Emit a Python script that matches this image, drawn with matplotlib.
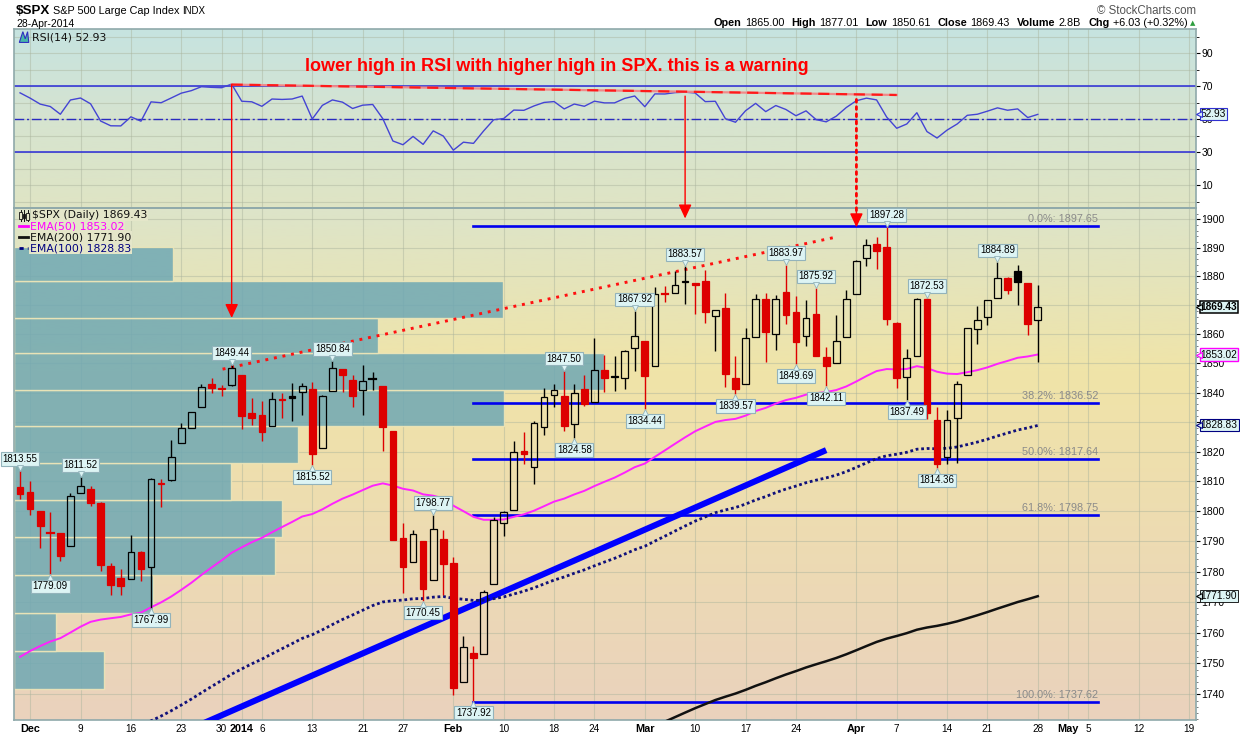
import numpy as np
import pandas as pd
import matplotlib.pyplot as plt
import matplotlib.transforms as mtransforms
from matplotlib.patches import Rectangle, ConnectionPatch, Polygon
from matplotlib.colors import LinearSegmentedColormap
from matplotlib.ticker import FixedLocator, NullFormatter

plt.rcParams['font.family'] = ['DejaVu Sans']
SANS = ['Liberation Sans', 'DejaVu Sans']

# ---------------- data ----------------
holidays = ['2013-12-25', '2014-01-01', '2014-01-20', '2014-02-17', '2014-04-18', '2014-05-26']
days = pd.bdate_range('2013-11-29', '2014-05-20')
days = days[~days.isin(pd.to_datetime(holidays))]

opens = [1808.10, 1806.55, 1800.10, 1793.15, 1792.82, 1788.36,
         1806.21, 1807.60, 1802.76, 1781.71, 1777.98,
         1777.48, 1786.47, 1781.46, 1809.00, 1810.39,
         1822.92, 1828.02, 1834.96, 1842.97,
         1841.47, 1842.61,
         1845.86, 1833.21,
         1832.31, 1828.71, 1837.90, 1839.00, 1840.06,
         1841.26, 1821.36, 1840.52, 1847.99, 1844.23,
         1841.05, 1844.71, 1842.29, 1826.96,
         1791.03, 1783.00, 1790.15, 1777.17, 1790.88,
         1782.68, 1743.82, 1753.38, 1752.99, 1776.01,
         1796.20, 1800.45, 1820.12, 1814.82, 1828.46,
         1839.03, 1838.90, 1829.24, 1841.07,
         1836.78, 1847.66, 1845.79, 1844.90, 1855.12,
         1857.68, 1849.23, 1874.05, 1874.18, 1878.52,
         1877.86, 1878.26, 1866.15, 1869.06, 1845.07,
         1842.81, 1858.92, 1872.25, 1860.09, 1874.53,
         1867.67, 1859.48, 1867.09, 1852.11, 1850.07,
         1859.16,
         1873.96, 1886.61, 1891.43, 1890.25,
         1863.92, 1845.48, 1852.64, 1872.28, 1830.65,
         1818.18, 1831.45, 1846.01, 1861.73,
         1865.79, 1872.57, 1879.32, 1881.97, 1877.72,
         1865.00]
highs = [1813.55, 1810.02, 1800.10, 1799.80, 1792.82, 1806.04,
         1811.52, 1808.52, 1802.97, 1782.99, 1780.92,
         1792.22, 1786.77, 1811.08, 1810.88, 1823.75,
         1829.75, 1833.32, 1842.84, 1844.89,
         1842.47, 1849.44,
         1845.86, 1838.24,
         1837.16, 1840.10, 1840.02, 1843.23, 1843.15,
         1843.45, 1839.26, 1850.84, 1847.99, 1846.04,
         1849.31, 1846.87, 1842.29, 1826.96,
         1795.98, 1793.87, 1790.15, 1798.77, 1793.88,
         1784.83, 1758.73, 1755.79, 1774.06, 1798.03,
         1799.94, 1823.54, 1826.55, 1830.25, 1841.65,
         1842.87, 1847.50, 1842.79, 1846.13,
         1858.71, 1852.91, 1852.65, 1854.53, 1867.92,
         1857.68, 1876.23, 1876.53, 1881.94, 1883.57,
         1877.87, 1882.35, 1868.38, 1874.40, 1852.44,
         1862.30, 1873.76, 1874.14, 1873.49, 1883.97,
         1873.34, 1871.87, 1875.92, 1855.55, 1866.63,
         1875.18,
         1885.84, 1893.17, 1893.80, 1897.28,
         1864.04, 1854.95, 1872.43, 1872.53, 1835.07,
         1834.19, 1844.02, 1862.31, 1869.63,
         1871.89, 1884.89, 1879.75, 1884.06, 1877.72,
         1877.01]
lows = [1803.98, 1798.77, 1787.85, 1779.09, 1783.38, 1788.36,
        1806.21, 1801.75, 1780.09, 1772.28, 1772.45,
        1777.48, 1777.05, 1767.99, 1801.35, 1810.25,
        1822.92, 1828.02, 1834.96, 1839.81,
        1838.77, 1842.41,
        1827.74, 1829.13,
        1823.73, 1828.71, 1831.40, 1830.38, 1832.43,
        1815.52, 1821.36, 1840.52, 1840.30, 1835.23,
        1832.38, 1840.88, 1820.06, 1790.29,
        1772.88, 1783.00, 1770.45, 1777.17, 1772.26,
        1739.66, 1743.82, 1737.92, 1752.99, 1776.01,
        1791.83, 1800.41, 1815.97, 1809.22, 1825.59,
        1835.01, 1826.99, 1824.58, 1835.60,
        1836.78, 1840.19, 1840.66, 1841.13, 1847.50,
        1834.44, 1849.23, 1871.11, 1874.18, 1870.56,
        1867.04, 1863.88, 1854.38, 1841.86, 1839.57,
        1842.81, 1858.92, 1850.35, 1854.63, 1863.46,
        1849.69, 1855.96, 1852.56, 1842.11, 1850.07,
        1859.16,
        1873.96, 1883.79, 1882.65, 1863.26,
        1841.48, 1837.49, 1852.38, 1830.87, 1814.36,
        1815.80, 1816.29, 1846.01, 1856.72,
        1863.18, 1872.57, 1873.91, 1870.24, 1859.70,
        1850.61]
closes = [1805.81, 1800.90, 1795.15, 1792.81, 1785.03, 1805.09,
          1808.37, 1802.62, 1782.22, 1775.50, 1775.32,
          1786.54, 1781.00, 1810.65, 1809.60, 1818.32,
          1827.99, 1833.32, 1842.02, 1841.40,
          1841.07, 1848.36,
          1831.98, 1831.37,
          1826.77, 1837.88, 1837.49, 1838.13, 1842.37,
          1819.20, 1838.88, 1848.38, 1845.89, 1838.70,
          1843.80, 1844.86, 1828.46, 1790.29,
          1781.56, 1792.50, 1774.20, 1794.19, 1782.59,
          1741.89, 1755.20, 1751.64, 1773.43, 1797.02,
          1799.84, 1819.75, 1819.26, 1829.83, 1838.63,
          1840.76, 1828.75, 1839.78, 1836.25,
          1847.61, 1845.12, 1845.16, 1854.29, 1859.45,
          1845.73, 1873.91, 1873.81, 1877.03, 1878.04,
          1877.17, 1867.63, 1868.20, 1846.34, 1841.13,
          1858.83, 1872.25, 1860.77, 1872.01, 1866.52,
          1857.44, 1865.62, 1852.56, 1849.04, 1857.62,
          1872.34,
          1885.52, 1890.90, 1888.77, 1865.09,
          1845.04, 1851.96, 1872.18, 1833.08, 1815.69,
          1830.61, 1842.98, 1862.31, 1864.85,
          1871.89, 1879.55, 1875.39, 1878.21, 1863.40,
          1869.43]
prev_close = 1807.23          # 27-Nov-2013

rsi_seed_gain, rsi_seed_loss = 5.26, 2.60
rsi_last = 52.93
ema_last = {50: 1853.02, 100: 1828.83, 200: 1771.90}

# labelled swing highs / lows (index into the bars)
label_high_idx = [0, 6, 21, 31, 41, 54, 61, 66, 76, 79, 86, 90, 97]
label_low_idx = [3, 13, 29, 40, 45, 55, 62, 71, 77, 80, 88, 91]

# volume-by-price
vbp_edges = [1741.7, 1754.0, 1766.4, 1778.9, 1791.4, 1803.8, 1816.1,
             1828.7, 1840.9, 1853.5, 1865.6, 1878.4, 1890.3]
vbp_volume = [90, 42, 139, 261, 268, 217, 284, 490, 590, 364, 489, 159]

# fibonacci retracement
fib_pct = ['0.0%', '38.2%', '50.0%', '61.8%', '100.0%']
fib_lvl = [1897.65, 1836.52, 1817.64, 1798.75, 1737.62]
fib_from, fib_to = '2014-02-05', '2014-05-06'

# hand-drawn lines
rsi_div = ([21, 87], [71.0, 64.7])
price_div = ([20.1, 80.9], [1848.0, 1893.7])
trend = ([12.9, 80.0], [1723.2, 1820.5])

tick_dates = ['2013-12-02', '2013-12-09', '2013-12-16', '2013-12-23', '2013-12-30',
              '2014-01-02', '2014-01-06', '2014-01-13', '2014-01-21', '2014-01-27',
              '2014-02-03', '2014-02-10', '2014-02-18', '2014-02-24', '2014-03-03',
              '2014-03-10', '2014-03-17', '2014-03-24', '2014-04-01', '2014-04-07',
              '2014-04-14', '2014-04-21', '2014-04-28', '2014-05-01', '2014-05-05',
              '2014-05-12', '2014-05-19']
tick_labels = ['Dec', '9', '16', '23', '30', '2014', '6', '13', '21', '27', 'Feb', '10',
               '18', '24', 'Mar', '10', '17', '24', 'Apr', '7', '14', '21', '28', 'May',
               '5', '12', '19']
price_ticks = list(range(1740, 1901, 10))
price_hidden = [1870, 1830]        # covered by the value tags
rsi_ticks = [10, 30, 50, 70, 90]

# ---------------- indicators ----------------
c = np.array(closes)
n = len(c)
x = np.arange(n)


def ema(values, span, last):
    a = 2.0 / (span + 1)
    e, path = 0.0, []
    for v in values:
        e += a * (v - e)
        path.append(e)
    decay = (1 - a) ** (np.arange(len(values)) + 1)
    seed = (last - path[-1]) / decay[-1]
    return np.array(path) + seed * decay


ema50 = ema(c, 50, ema_last[50])
ema100 = ema(c, 100, ema_last[100])
ema200 = ema(c, 200, ema_last[200])

g, l, p = rsi_seed_gain, rsi_seed_loss, prev_close
rsi = []
for v in c:
    d = v - p
    g = (g * 13 + max(d, 0)) / 14
    l = (l * 13 + max(-d, 0)) / 14
    rsi.append(100 - 100 / (1 + g / l))
    p = v
rsi = np.array(rsi)

tick_pos = [days.get_loc(pd.Timestamp(d)) for d in tick_dates]

# ---------------- figure ----------------
W, H = 1240, 737
fig = plt.figure(figsize=(W / 100, H / 100), dpi=100)
fig.patch.set_facecolor('white')


def rect(l_px, t_px, r_px, b_px):
    return [l_px / W, 1 - b_px / H, (r_px - l_px) / W, (b_px - t_px) / H]


def gradient_bg(r, colors):
    bg = fig.add_axes(r, zorder=-5)
    cmap = LinearSegmentedColormap.from_list('bg', colors)
    bg.imshow(np.linspace(0, 1, 300).reshape(-1, 1), cmap=cmap, aspect='auto',
              extent=[0, 1, 0, 1], origin='upper')
    bg.set_axis_off()


r_rsi = rect(14, 29, 1196, 208)
r_px = rect(14, 208, 1196, 720)
gradient_bg(r_rsi, ['#c6e3e0', '#d6e4d0', '#dfe4c4'])
gradient_bg(r_px, [(0, '#dde4c9'), (0.32, '#f0e4a8'), (1, '#ead2bd')])

ax_r = fig.add_axes(r_rsi)
ax = fig.add_axes(r_px, sharex=ax_r)
for a in (ax_r, ax):
    a.set_facecolor('none')
    for s in a.spines.values():
        s.set_color('#8fa9aa')
        s.set_linewidth(1.2)
    a.set_axisbelow(True)

xmin, xmax = -0.6, 116.7
ax.set_xlim(xmin, xmax)

grid_kw = dict(color='#a9b39c', lw=0.8, alpha=0.45)

# ---- RSI panel ----
ax_r.set_ylim(-3.8, 104.7)
for t in tick_pos:
    ax_r.axvline(t, zorder=0.5, **grid_kw)
for v in range(0, 101, 10):
    ax_r.axhline(v, zorder=0.5, **grid_kw)
ax_r.axhline(70, color='#2a2ad8', lw=1.1, zorder=2)
ax_r.axhline(30, color='#2a2ad8', lw=1.1, zorder=2)
ax_r.axhline(50, color='#2a2ac0', lw=1.0, ls=(0, (7, 2, 1.5, 2)), zorder=2)
ax_r.plot(x, rsi, color='#4444d4', lw=1.0, zorder=3)
ax_r.plot(*rsi_div, color='#f08a8a', lw=1.6, zorder=4)
ax_r.plot(*rsi_div, color='#ff1a1a', lw=1.6, ls=(0, (5, 3)), zorder=4)

ax_r.yaxis.tick_right()
ax_r.yaxis.set_major_locator(FixedLocator(rsi_ticks))
ax_r.yaxis.set_minor_locator(FixedLocator(range(0, 101, 10)))
ax_r.tick_params(axis='y', which='major', length=3, pad=1, labelsize=7.5, colors='black')
ax_r.tick_params(axis='y', which='minor', length=2)
ax_r.tick_params(axis='x', length=0, labelbottom=False)
for lb in ax_r.get_yticklabels():
    lb.set_family(SANS)

ax_r.text(0.0152, 0.955, f'RSI(14) {rsi_last:.2f}', transform=ax_r.transAxes, fontsize=7.8,
          ha='left', va='center', color='#111111')
# small RSI icon
ax_r.add_patch(Polygon([[0.0045, 0.925], [0.0075, 0.985], [0.0095, 0.945], [0.0115, 0.985],
                        [0.0125, 0.925]], closed=True, transform=ax_r.transAxes,
                       fc='#48b8a8', ec='#3030c0', lw=0.8, zorder=6))
ax_r.text(0.4594, 0.79, 'lower high in RSI with higher high in SPX. this is a warning',
          transform=ax_r.transAxes, ha='center', va='center', color='#ff0000',
          fontsize=13, fontweight='bold', family=SANS, zorder=6)

# ---- price panel ----
ax.set_yscale('log')
ax.set_ylim(1731.74, 1903.99)
for t in tick_pos:
    ax.axvline(t, zorder=0.5, **grid_kw)
for v in price_ticks:
    ax.axhline(v, zorder=0.5, **grid_kw)

blend = mtransforms.blended_transform_factory(ax.transAxes, ax.transData)
vmax = max(vbp_volume)
for lo, hi, vol in zip(vbp_edges[:-1], vbp_edges[1:], vbp_volume):
    ax.add_patch(Rectangle((0, lo), vol / vmax * 0.499, hi - lo, transform=blend,
                           facecolor='#6fa8b4', alpha=0.85, edgecolor='#f2e8b8',
                           lw=1.0, zorder=1))

f0 = days.get_loc(pd.Timestamp(fib_from))
f1 = days.get_loc(pd.Timestamp(fib_to))
for pct, lvl in zip(fib_pct, fib_lvl):
    ax.plot([f0, f1], [lvl, lvl], color='#0000ee', lw=1.9, zorder=2)
    ax.annotate(f'{pct}: {lvl:.2f}', xy=(f1, lvl), xytext=(0, 1.5), textcoords='offset points',
                ha='right', va='bottom', fontsize=7.8, color='#8a8a8a', family=SANS, zorder=2)

ax.plot(*trend, color='#0000ff', lw=4.4, solid_capstyle='butt', zorder=3)
ax.plot(x, ema200, color='#111111', lw=1.8, zorder=3)
ax.plot(x, ema100, color='#10107a', lw=2.0, ls=(0, (1, 1)), zorder=3)
ax.plot(x, ema50, color='#ff22ff', lw=1.4, zorder=3)
ax.plot(*price_div, color='#ff1010', lw=2.1, ls=(0, (1, 2)), zorder=3)

# candles
body_w = 0.66
pc = prev_close
for i in range(n):
    o, h, lo_, cl = opens[i], highs[i], lows[i], closes[i]
    col = '#dd0000' if cl < pc else '#000000'
    filled = cl < o
    b0, b1 = min(o, cl), max(o, cl)
    ax.vlines(i, lo_, b0, color=col, lw=1.0, zorder=4)
    ax.vlines(i, b1, h, color=col, lw=1.0, zorder=4)
    if b1 - b0 < 0.4:
        ax.plot([i - body_w / 2, i + body_w / 2], [b0, b0], color=col, lw=1.6, zorder=4)
    else:
        ax.add_patch(Rectangle((i - body_w / 2, b0), body_w, b1 - b0,
                               facecolor=col if filled else 'none', edgecolor=col,
                               lw=0.9, zorder=4))
    pc = cl

box_fc, box_ec = '#ddf4f4', '#93b3bb'


def callout(i, val, above):
    s = 1 if above else -1
    ax.annotate(f'{val:.2f}', xy=(i, val), xytext=(0, 5 * s), textcoords='offset points',
                ha='center', va='bottom' if above else 'top', fontsize=7, family=SANS,
                bbox=dict(boxstyle='square,pad=0.18', fc=box_fc, ec=box_ec, lw=0.8), zorder=7)
    off = mtransforms.ScaledTranslation(0, 2.2 * s / 72, fig.dpi_scale_trans)
    ax.plot(i, val, marker='v' if above else '^', ms=4.5, mfc=box_fc, mec=box_ec, mew=0.6,
            transform=ax.transData + off, zorder=7)


for i in label_high_idx:
    callout(i, highs[i], True)
for i in label_low_idx:
    callout(i, lows[i], False)


# arrows from RSI to price
def link(xr, yr, xp, yp, dotted=False):
    head = '-|>,head_length=0.6,head_width=0.28'
    if not dotted:
        con = ConnectionPatch(xyA=(xr, yr), coordsA=ax_r.transData, xyB=(xp, yp),
                              coordsB=ax.transData, arrowstyle=head, mutation_scale=14,
                              color='#ff0000', lw=1.0, zorder=8)
        fig.add_artist(con)
        return
    con = ConnectionPatch(xyA=(xr, yr), coordsA=ax_r.transData, xyB=(xp, yp * 1.003),
                          coordsB=ax.transData, arrowstyle='-', color='#ff0000', lw=2.0,
                          ls=(0, (1, 1.6)), zorder=8)
    fig.add_artist(con)
    ax.annotate('', xy=(xp, yp), xytext=(xp, yp * 1.0032),
                arrowprops=dict(arrowstyle=head, mutation_scale=14, color='#ff0000', lw=1.0,
                                shrinkA=0, shrinkB=0), zorder=8)


link(21, 71.0, 21, 1865.6)
link(66, 64.0, 66, 1900.3)
link(83, 62.0, 83, 1897.2, dotted=True)

# axis ticks
ax.yaxis.tick_right()
ax.yaxis.set_major_locator(FixedLocator(price_ticks))
ax.yaxis.set_major_formatter(plt.FuncFormatter(
    lambda v, _: '' if round(v) in price_hidden else f'{v:.0f}'))
ax.yaxis.set_minor_locator(FixedLocator(range(1732, 1904, 2)))
ax.yaxis.set_minor_formatter(NullFormatter())
ax.tick_params(axis='y', which='major', length=3, pad=1, labelsize=7.5, colors='black')
ax.tick_params(axis='y', which='minor', length=1.5, colors='#666666')
for lb in ax.get_yticklabels():
    lb.set_family(SANS)

ax.set_xticks(tick_pos)
ax.set_xticklabels(tick_labels)
ax.tick_params(axis='x', length=0, pad=3)
for lb in ax.get_xticklabels():
    lb.set_family(SANS)
    if lb.get_text()[0].isalpha() or lb.get_text() == '2014':
        lb.set_fontweight('bold')
        lb.set_fontsize(7.8)
    else:
        lb.set_fontsize(7.2)


# right-hand value tags
def tag(axis, val, text, ec, bold=False, lw=0.8):
    bl = mtransforms.blended_transform_factory(axis.transAxes, axis.transData)
    axis.annotate(text, xy=(1, val), xycoords=bl, xytext=(3.4, 0), textcoords='offset points',
                  ha='left', va='center', fontsize=7.3, family=SANS,
                  fontweight='bold' if bold else 'normal', annotation_clip=False,
                  bbox=dict(boxstyle='square,pad=0.1', fc=box_fc, ec=ec, lw=lw), zorder=9)
    off = mtransforms.ScaledTranslation(2.2 / 72, 0, fig.dpi_scale_trans)
    axis.plot(1, val, marker='<', ms=4.5, mfc=box_fc, mec=ec, mew=0.8, clip_on=False,
              transform=bl + off, zorder=9)


tag(ax, closes[-1], f'{closes[-1]:.2f}', '#000000', bold=True, lw=1.1)
tag(ax, ema_last[50], f'{ema_last[50]:.2f}', '#ff00ff', lw=1.0)
tag(ax, ema_last[100], f'{ema_last[100]:.2f}', '#000080')
tag(ax, ema_last[200], f'{ema_last[200]:.2f}', '#000000', lw=0.6)
tag(ax_r, rsi[-1], f'{rsi_last:.2f}', '#3030d0')

# legend block
leg = [(f'$SPX (Daily) {closes[-1]:.2f}', '#111111', None),
       (f'EMA(50) {ema_last[50]:.2f}', '#ff00ff', '-'),
       (f'EMA(200) {ema_last[200]:.2f}', '#111111', '-'),
       (f'EMA(100) {ema_last[100]:.2f}', '#000080', '--')]
for k, (txt, col, ls) in enumerate(leg):
    yy = 0.986 - k * 0.0215
    ax.text(0.0152 if ls is None else 0.0135, yy, txt, transform=ax.transAxes, fontsize=7.8,
            color=col, ha='left', va='center', zorder=9,
            bbox=dict(boxstyle='square,pad=0.08', fc='#e4e6c9', ec='none'))
    if ls:
        ax.plot([0.0045, 0.0115], [yy, yy], transform=ax.transAxes, color=col, lw=2,
                ls=ls if ls == '-' else (0, (1.5, 1.5)), zorder=9)
# tiny candle icon
for k, (xc, b0, b1, fc) in enumerate([(0.0055, 0.978, 0.992, 'none'),
                                      (0.0085, 0.981, 0.989, '#111111'),
                                      (0.0115, 0.977, 0.991, 'none')]):
    ax.plot([xc, xc], [0.974, 0.996], transform=ax.transAxes, color='#111111', lw=0.7, zorder=9)
    ax.add_patch(Rectangle((xc - 0.0011, b0), 0.0022, b1 - b0, transform=ax.transAxes,
                           fc='#e4e6c9' if fc == 'none' else fc, ec='#111111', lw=0.6, zorder=9))

# header
fig.text(16 / W, 1 - 11 / H, '$SPX', fontsize=9.6, fontweight='bold', family=SANS, va='center')
fig.text(53 / W, 1 - 11 / H, 'S&P 500 Large Cap Index', fontsize=7.8, family=SANS, va='center')
fig.text(182 / W, 1 - 11 / H, 'INDX', fontsize=7, family=SANS, va='center')
fig.text(16 / W, 1 - 24 / H, '28-Apr-2014', fontsize=7.5, family=SANS, va='center')
fig.text(1196 / W, 1 - 11 / H, '\u00a9 StockCharts.com', fontsize=8.3, family=SANS,
         color='#555555', ha='right', va='center')

pieces = [('Open', True), ('1865.00', False), ('High', True), ('1877.01', False),
          ('Low', True), ('1850.61', False), ('Close', True), ('1869.43', False),
          ('Volume', True), ('2.8B', False), ('Chg', True), ('+6.03 (+0.32%)', False)]
last = None
for s, b in pieces:
    kw = dict(fontsize=7.8, family=SANS, fontweight='bold' if b else 'normal', va='bottom')
    if last is None:
        last = fig.text(714 / W, 1 - 28 / H, s, ha='left', **kw)
    else:
        last = ax_r.annotate(s, xy=(1, 0), xycoords=last, xytext=(5 if b else 2.5, 0),
                             textcoords='offset points', annotation_clip=False, **kw)
ax_r.annotate('\u25b2', xy=(1, 0), xycoords=last, xytext=(2, 1), textcoords='offset points',
              fontsize=5, color='#2e9e3e', va='bottom', annotation_clip=False)

fig.savefig('out.png', dpi=100)
